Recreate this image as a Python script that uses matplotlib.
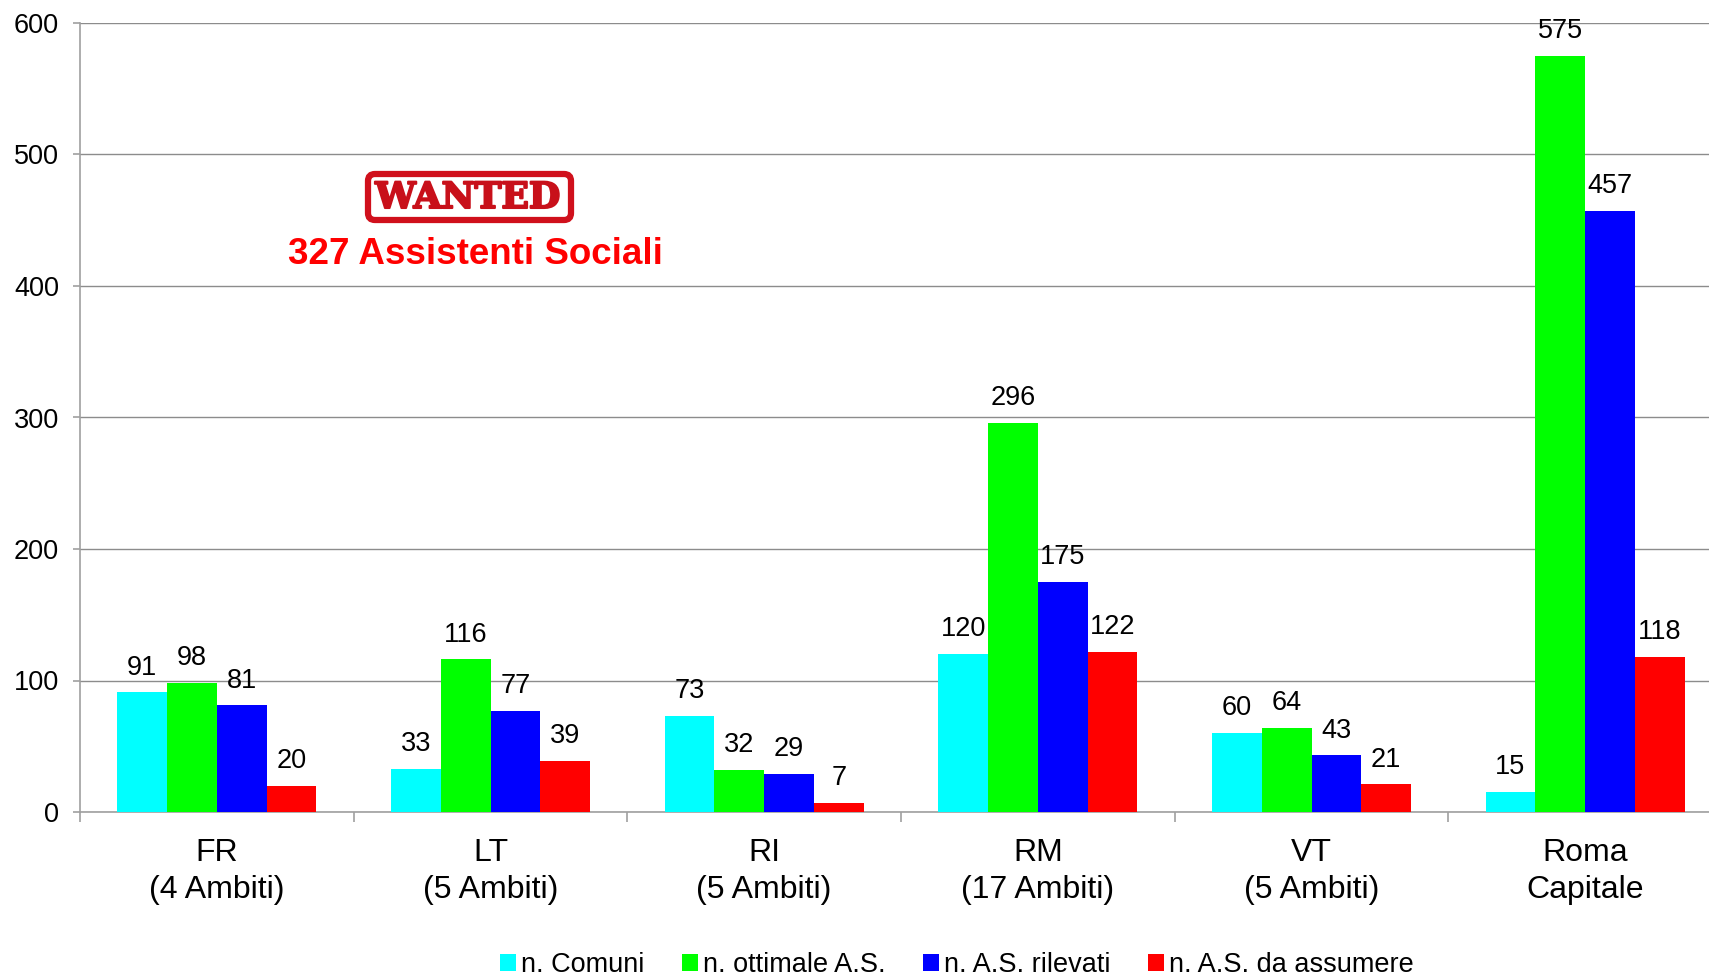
import matplotlib
matplotlib.use("Agg")
import matplotlib.pyplot as plt
from matplotlib.patches import FancyBboxPatch, Patch
import matplotlib.patheffects as pe
import numpy as np

plt.rcParams['font.family'] = ['Liberation Sans', 'DejaVu Sans']

categories = ["FR\n(4 Ambiti)", "LT\n(5 Ambiti)", "RI\n(5 Ambiti)",
              "RM\n(17 Ambiti)", "VT\n(5 Ambiti)", "Roma\nCapitale"]
series_names = ["n. Comuni", "n. ottimale A.S.", "n. A.S. rilevati", "n. A.S. da assumere"]
comuni = [91, 33, 73, 120, 60, 15]
ottimale = [98, 116, 32, 296, 64, 575]
rilevati = [81, 77, 29, 175, 43, 457]
assumere = [20, 39, 7, 122, 21, 118]
series = [comuni, ottimale, rilevati, assumere]
colors = ["#00FFFF", "#00FF00", "#0000FF", "#FF0000"]
yticks = [0, 100, 200, 300, 400, 500, 600]

W, H = 1709, 976
fig = plt.figure(figsize=(W / 100, H / 100), dpi=100)
ax = fig.add_axes([80 / W, 164 / H, (1722 - 80) / W, (812 - 23) / H])

x = np.arange(len(categories))
bw = 0.182
for i, (vals, c) in enumerate(zip(series, colors)):
    pos = x + (i - 1.5) * bw
    ax.bar(pos, vals, width=bw, color=c, edgecolor='none', zorder=3)
    for xi, v in zip(pos, vals):
        ax.annotate(str(v), (xi, v), xytext=(0, 8.5), textcoords='offset points',
                    ha='center', va='bottom', fontsize=19.5, color='black')

ax.set_xlim(-0.5, len(categories) - 0.5)
ax.set_ylim(0, 600)
ax.set_yticks(yticks)
ax.set_yticklabels([str(t) for t in yticks], fontsize=19.5)
ax.yaxis.grid(True, color='#8c8c8c', linewidth=1.0, zorder=0)
ax.set_axisbelow(True)

ax.set_xticks(x)
ax.set_xticklabels(categories, fontsize=23, linespacing=1.3)
ax.set_xticks(np.arange(len(categories) + 1) - 0.5, minor=True)
ax.tick_params(axis='x', which='major', length=0, pad=19)
ax.tick_params(axis='x', which='minor', length=7, color='#a0a0a0', width=1.2, direction='out')
ax.tick_params(axis='y', length=5, color='#a0a0a0', width=1.2, pad=10)

for s in ['top', 'right']:
    ax.spines[s].set_visible(False)
for s in ['left', 'bottom']:
    ax.spines[s].set_color('#a0a0a0')
    ax.spines[s].set_linewidth(1.2)

# Stamp box + text
ov = fig.add_axes([0, 0, 1, 1], zorder=5)
ov.set_xlim(0, W)
ov.set_ylim(H, 0)
ov.axis('off')
ov.add_patch(FancyBboxPatch((368, 174), 203, 46, boxstyle="round,pad=0,rounding_size=7",
                            facecolor='white', edgecolor='#d0101c', linewidth=4.5))
fig.text(468 / W, 1 - 198 / H, "WANTED", ha='center', va='center',
         fontsize=26, fontweight='bold', family='DejaVu Serif', color='#c8101a', zorder=6,
         path_effects=[pe.withStroke(linewidth=1.5, foreground='#c8101a')])
fig.text(475 / W, 1 - 254 / H, "327 Assistenti Sociali", ha='center', va='center',
         fontsize=26.5, fontweight='bold', color='#FF0000', zorder=6)

handles = [Patch(facecolor=c, edgecolor='none') for c in colors]
fig.legend(handles, series_names, loc='center', bbox_to_anchor=(957 / W, 11 / H),
           ncol=4, frameon=False, fontsize=19.5, handlelength=0.6, handleheight=0.6,
           handletextpad=0.2, columnspacing=1.36)

fig.savefig("out.png", dpi=100)
